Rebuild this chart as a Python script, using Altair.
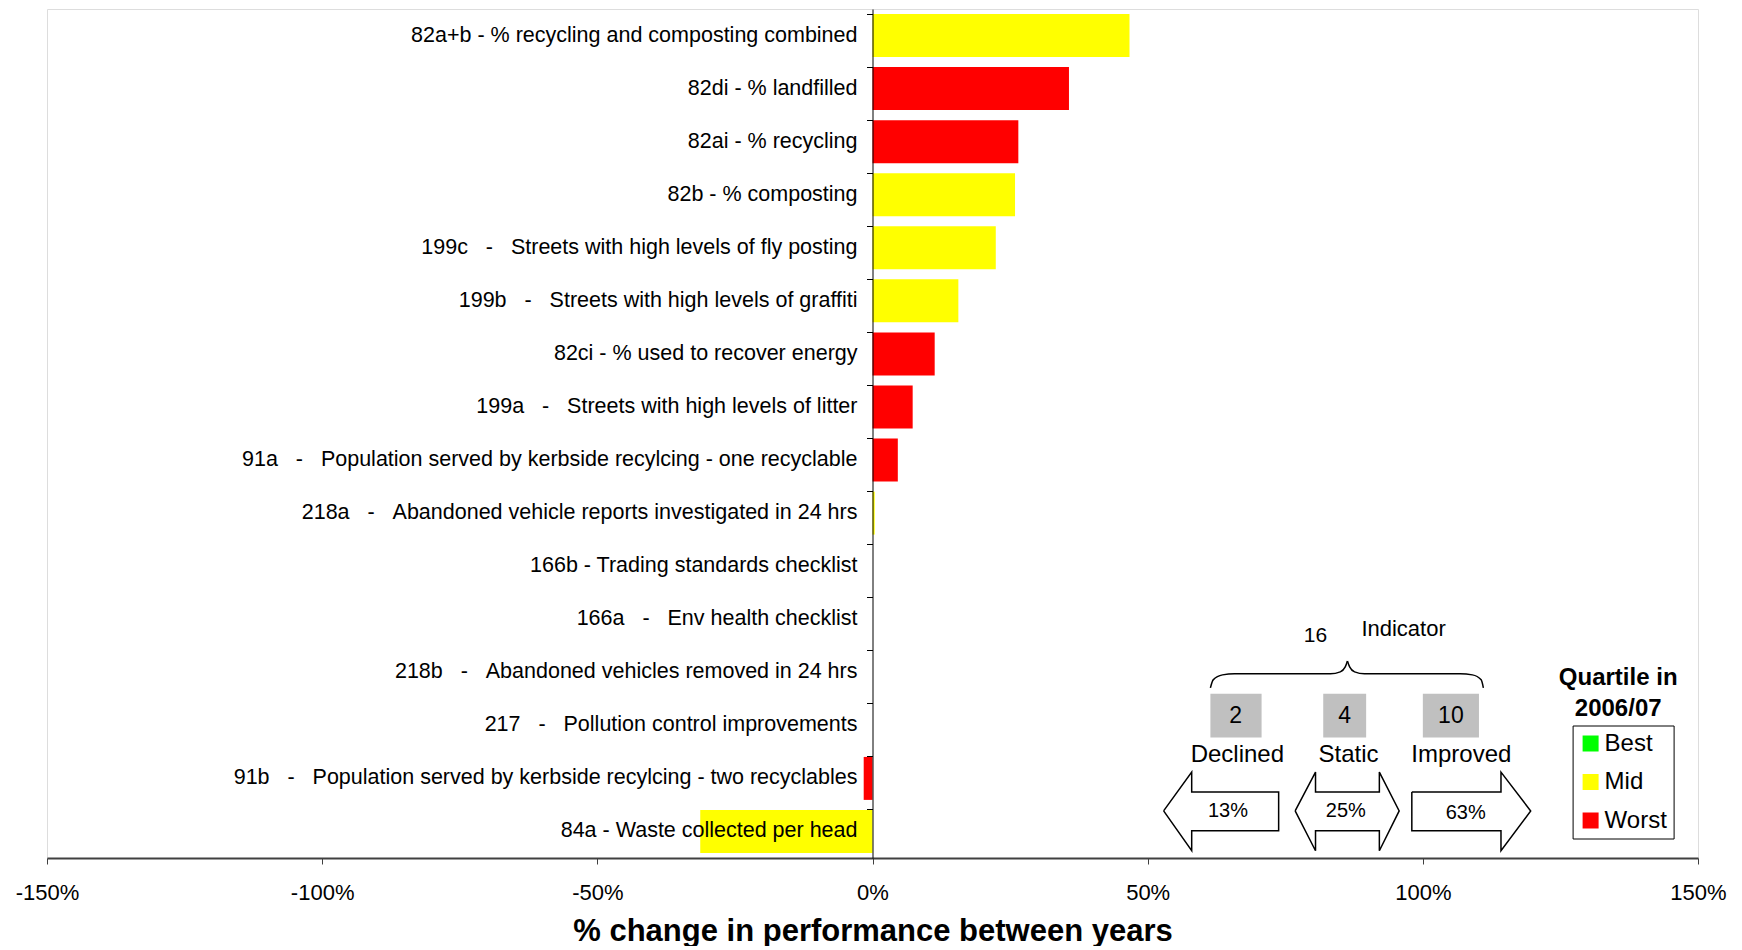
import altair as alt
import pandas as pd

FONT = "Liberation Sans"
NB = "\u00a0"

# ---------------- data ----------------
indicators = [
    "82a+b - % recycling and composting combined",
    "82di - % landfilled",
    "82ai - % recycling",
    "82b - % composting",
    "199c   -   Streets with high levels of fly posting",
    "199b   -   Streets with high levels of graffiti",
    "82ci - % used to recover energy",
    "199a   -   Streets with high levels of litter",
    "91a   -   Population served by kerbside recylcing - one recyclable",
    "218a   -   Abandoned vehicle reports investigated in 24 hrs",
    "166b - Trading standards checklist",
    "166a   -   Env health checklist",
    "218b   -   Abandoned vehicles removed in 24 hrs",
    "217   -   Pollution control improvements",
    "91b   -   Population served by kerbside recylcing - two recyclables",
    "84a - Waste collected per head",
]
changes = [0.467, 0.357, 0.265, 0.259, 0.224, 0.156, 0.113, 0.073, 0.046,
           0.004, 0.0, 0.0, 0.0, 0.0, -0.016, -0.313]
quartiles = ["Mid", "Worst", "Worst", "Mid", "Mid", "Mid", "Worst", "Worst", "Worst",
             "Mid", "Mid", "Mid", "Mid", "Mid", "Worst", "Mid"]

quartile_names = ["Best", "Mid", "Worst"]
quartile_colors = ["#00FF00", "#FFFF00", "#FF0000"]

tick_values = [-1.5, -1.0, -0.5, 0.0, 0.5, 1.0, 1.5]

# summary infographic (x in % change units, y in indicator-row units)
summary_counts = ["2", "4", "10"]
summary_names = ["Declined", "Static", "Improved"]
summary_pcts = ["13%", "25%", "63%"]
summary_x = [0.660, 0.858, 1.051]
name_x = [0.663, 0.865, 1.070]
pct_x = [0.646, 0.860, 1.078]
pct_y = [15.113, 15.113, 15.156]
box_x1 = [0.614, 0.819, 1.000]
box_x2 = [0.707, 0.897, 1.102]
box_y1 = 12.905
box_y2 = 13.730

arrow_id = (["decl"] * 8) + (["stat"] * 11) + (["impr"] * 8)
arrow_x = [0.529, 0.580, 0.580, 0.738, 0.738, 0.580, 0.580, 0.529,
           0.768, 0.805, 0.805, 0.921, 0.921, 0.957, 0.921, 0.921, 0.805, 0.805, 0.768,
           0.980, 1.142, 1.142, 1.196, 1.142, 1.142, 0.980, 0.980]
arrow_y = [15.113, 14.381, 14.756, 14.756, 15.488, 15.488, 15.863, 15.113,
           15.113, 14.381, 14.756, 14.756, 14.381, 15.113, 15.863, 15.488, 15.488, 15.863, 15.113,
           14.756, 14.756, 14.381, 15.113, 15.863, 15.488, 15.488, 14.756]

brace_id = (["left"] * 8) + (["right"] * 8)
brace_x = [0.614, 0.619, 0.636, 0.658, 0.832, 0.850, 0.859, 0.863,
           0.863, 0.867, 0.876, 0.894, 1.068, 1.090, 1.106, 1.110]
brace_y = [12.793, 12.643, 12.549, 12.530, 12.530, 12.493, 12.399, 12.286,
           12.286, 12.399, 12.493, 12.530, 12.530, 12.549, 12.643, 12.793]

# ---------------- tables ----------------
disp = [s.replace("   ", NB * 3) for s in indicators]
df = pd.DataFrame({"indicator": disp, "change": changes, "quartile": quartiles})

arrows = pd.DataFrame({"id": arrow_id, "x": arrow_x, "y": arrow_y,
                       "o": list(range(len(arrow_x)))})
brace = pd.DataFrame({"id": brace_id, "x": brace_x, "y": brace_y,
                      "o": list(range(len(brace_x)))})
boxes = pd.DataFrame({"x1": box_x1, "x2": box_x2, "y1": [box_y1] * 3, "y2": [box_y2] * 3})

texts = pd.DataFrame({
    "t": ["16", "Indicator"] + summary_counts + summary_names + summary_pcts,
    "x": [0.805, 0.965] + summary_x + name_x + pct_x,
    "y": [11.817, 11.686] + [13.318] * 3 + [14.068] * 3 + pct_y,
    "fs": [21, 22] + [23] * 3 + [24] * 3 + [20] * 3,
})
bold_texts = pd.DataFrame({"t": ["Quartile in", "2006/07"],
                           "x": [1.355, 1.355], "y": [12.605, 13.192]})

# ---------------- scales / axes ----------------
xscale = alt.Scale(domain=[-1.5, 1.5], nice=False, zero=False)
yband = alt.Scale(paddingInner=0.19, paddingOuter=0.095)
yann = alt.Scale(domain=[0, 16], reverse=True, nice=False, zero=False)

xaxis = alt.Axis(
    title="% change in performance between years",
    values=tick_values,
    labelExpr="(datum.value < 0 ? '-' : '') + format(abs(datum.value), '.0%')",
    labelFont=FONT, labelFontSize=22, labelColor="black", labelPadding=18,
    labelOverlap=False, labelFlush=False,
    tickSize=6, tickColor="#404040", tickWidth=1,
    domainColor="#404040", domainWidth=2,
    titleFont=FONT, titleFontSize=31, titleFontWeight="bold", titleColor="black",
    titlePadding=13, grid=False, zindex=1,
)
yaxis = alt.Axis(
    title=None, labels=False, orient="left", offset=-825.5,
    domainColor="black", domainWidth=1, tickColor="black", tickSize=6, tickWidth=1,
    bandPosition=0, grid=False, zindex=1,
)

X = lambda f: alt.X(f, type="quantitative", scale=xscale, axis=xaxis)

bars = alt.Chart(df).mark_bar().encode(
    x=alt.X("change:Q", scale=xscale, axis=xaxis),
    x2=alt.datum(0),
    y=alt.Y("indicator:N", sort=disp, scale=yband, axis=yaxis),
    color=alt.Color(
        "quartile:N",
        scale=alt.Scale(domain=quartile_names, range=quartile_colors),
        legend=alt.Legend(
            orient="none", legendX=1525.6, legendY=716.5, title=None,
            symbolType="square", symbolSize=256, symbolStrokeWidth=0,
            labelFont=FONT, labelFontSize=24, labelColor="black", labelOffset=2,
            strokeColor="black", fillColor="white", padding=6, rowPadding=14.5,
        ),
    ),
)

labels = alt.Chart(df).mark_text(
    align="right", baseline="middle", dx=-15, font=FONT, fontSize=21.5, color="black"
).encode(
    x=alt.datum(0, scale=xscale, axis=xaxis),
    y=alt.Y("indicator:N", sort=disp, scale=yband, axis=yaxis),
    text="indicator:N",
)

data_layer = alt.layer(bars, labels)

arrow_lines = alt.Chart(arrows).mark_line(color="black", strokeWidth=1.5, strokeJoin="miter").encode(
    x=X("x"), y=alt.Y("y:Q", scale=yann, axis=None), detail="id:N", order="o:Q",
)
brace_lines = alt.Chart(brace).mark_line(color="black", strokeWidth=1.5, interpolate="monotone").encode(
    x=X("x"), y=alt.Y("y:Q", scale=yann, axis=None), detail="id:N", order="o:Q",
)
box_rects = alt.Chart(boxes).mark_rect(color="#C0C0C0").encode(
    x=X("x1"), x2="x2", y=alt.Y("y1:Q", scale=yann, axis=None), y2="y2",
)
text_marks = alt.Chart(texts).mark_text(baseline="middle", align="center", font=FONT, color="black").encode(
    x=X("x"), y=alt.Y("y:Q", scale=yann, axis=None), text="t:N",
    size=alt.Size("fs:Q", scale=None, legend=None),
)
bold_marks = alt.Chart(bold_texts).mark_text(
    baseline="middle", align="center", font=FONT, fontSize=24, fontWeight="bold", color="black"
).encode(
    x=X("x"), y=alt.Y("y:Q", scale=yann, axis=None), text="t:N",
)

annot_layer = alt.layer(box_rects, arrow_lines, brace_lines, text_marks, bold_marks)

chart = alt.layer(data_layer, annot_layer).resolve_scale(y="independent").properties(
    width=1651, height=849,
    autosize=alt.AutoSizeParams(type="none"),
    padding={"left": 39, "top": 1, "right": 30, "bottom": 88},
).configure_view(stroke="#808080", strokeWidth=2).configure(font=FONT)

chart.save("out.html", embed_options={"renderer": "svg", "actions": False})
